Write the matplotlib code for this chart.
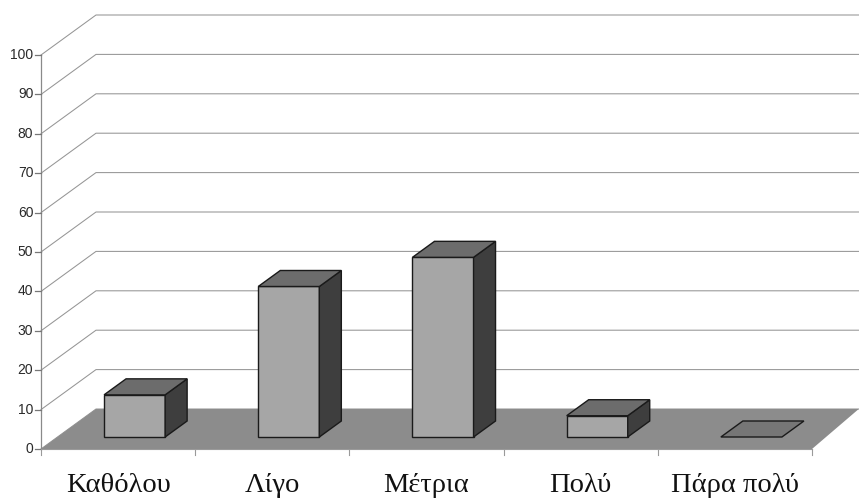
import matplotlib
matplotlib.use("Agg")
import matplotlib.pyplot as plt
from matplotlib.patches import Polygon

categories = ["Καθόλου", "Λίγο", "Μέτρια", "Πολύ", "Πάρα πολύ"]
values = [10.7, 38.2, 45.6, 5.4, 0.0]
yticks = [0, 10, 20, 30, 40, 50, 60, 70, 80, 90, 100]

W, H = 859, 499
fig = plt.figure(figsize=(W / 100, H / 100), dpi=100)
ax = fig.add_axes([0, 0, 1, 1])
px_x = 154.2   # pixels per category
px_y = 3.94    # pixels per value unit
x0_px, y0_px = 41, 50  # origin (from left, from bottom)
ax.set_xlim(-x0_px / px_x, (W - x0_px) / px_x)
ax.set_ylim(-y0_px / px_y, (H - y0_px) / px_y)
ax.axis("off")

# oblique depth offset (data units)
ddx = 55 / px_x
ddy = 40 / px_y
n = len(categories)

# floor
floor = Polygon([(0, 0), (n, 0), (n + ddx * 0.85, ddy), (ddx, ddy)], closed=True,
                facecolor="#8c8c8c", edgecolor="none", zorder=1)
ax.add_patch(floor)

# gridlines (side wall diagonal + back wall horizontal)
xmax = ax.get_xlim()[1]
for v in yticks:
    ax.plot([0, ddx, xmax], [v, v + ddy, v + ddy], color="#959595", lw=0.75, zorder=0.5)

# value axis
ax.plot([0, 0], [0, yticks[-1]], color="#8a8a8a", lw=0.9, zorder=2)
for v in yticks:
    ax.plot([-0.04, 0], [v, v], color="#777777", lw=0.9, zorder=2)
    ax.text(-0.05, v, str(v), ha="right", va="center", fontsize=10,
            family="Liberation Sans", color="#2a2a2a")

# category axis line + ticks
ax.plot([0, n], [0, 0], color="#9a9a9a", lw=0.8, zorder=2)
for i in range(n + 1):
    ax.plot([i, i], [0, -1.6], color="#9a9a9a", lw=0.8, zorder=2)

# bars
w = 0.198
f, b = 0.3, 0.7
for i, (cat, v) in enumerate(zip(categories, values)):
    c = i + 0.5
    xl, xr = c - w + f * ddx, c + w + f * ddx
    yb = f * ddy
    bx = (b - f) * ddx
    by = (b - f) * ddy
    if v > 0:
        front = Polygon([(xl, yb), (xr, yb), (xr, yb + v), (xl, yb + v)], closed=True,
                        facecolor="#a6a6a6", edgecolor="#1a1a1a", lw=1.0, zorder=3)
        side = Polygon([(xr, yb), (xr + bx, yb + by), (xr + bx, yb + by + v), (xr, yb + v)],
                       closed=True, facecolor="#3e3e3e", edgecolor="#1a1a1a", lw=1.0, zorder=3)
        ax.add_patch(front)
        ax.add_patch(side)
        topc = "#6c6c6c"
    else:
        topc = "#767676"
    top = Polygon([(xl, yb + v), (xr, yb + v), (xr + bx, yb + by + v), (xl + bx, yb + by + v)],
                  closed=True, facecolor=topc, edgecolor="#1a1a1a", lw=1.0, zorder=4)
    ax.add_patch(top)
    ax.text(c, -9.3, cat, ha="center", va="center", fontsize=20.5,
            family="Liberation Serif", color="#111111")

fig.savefig("out.png", dpi=100, facecolor="white")
